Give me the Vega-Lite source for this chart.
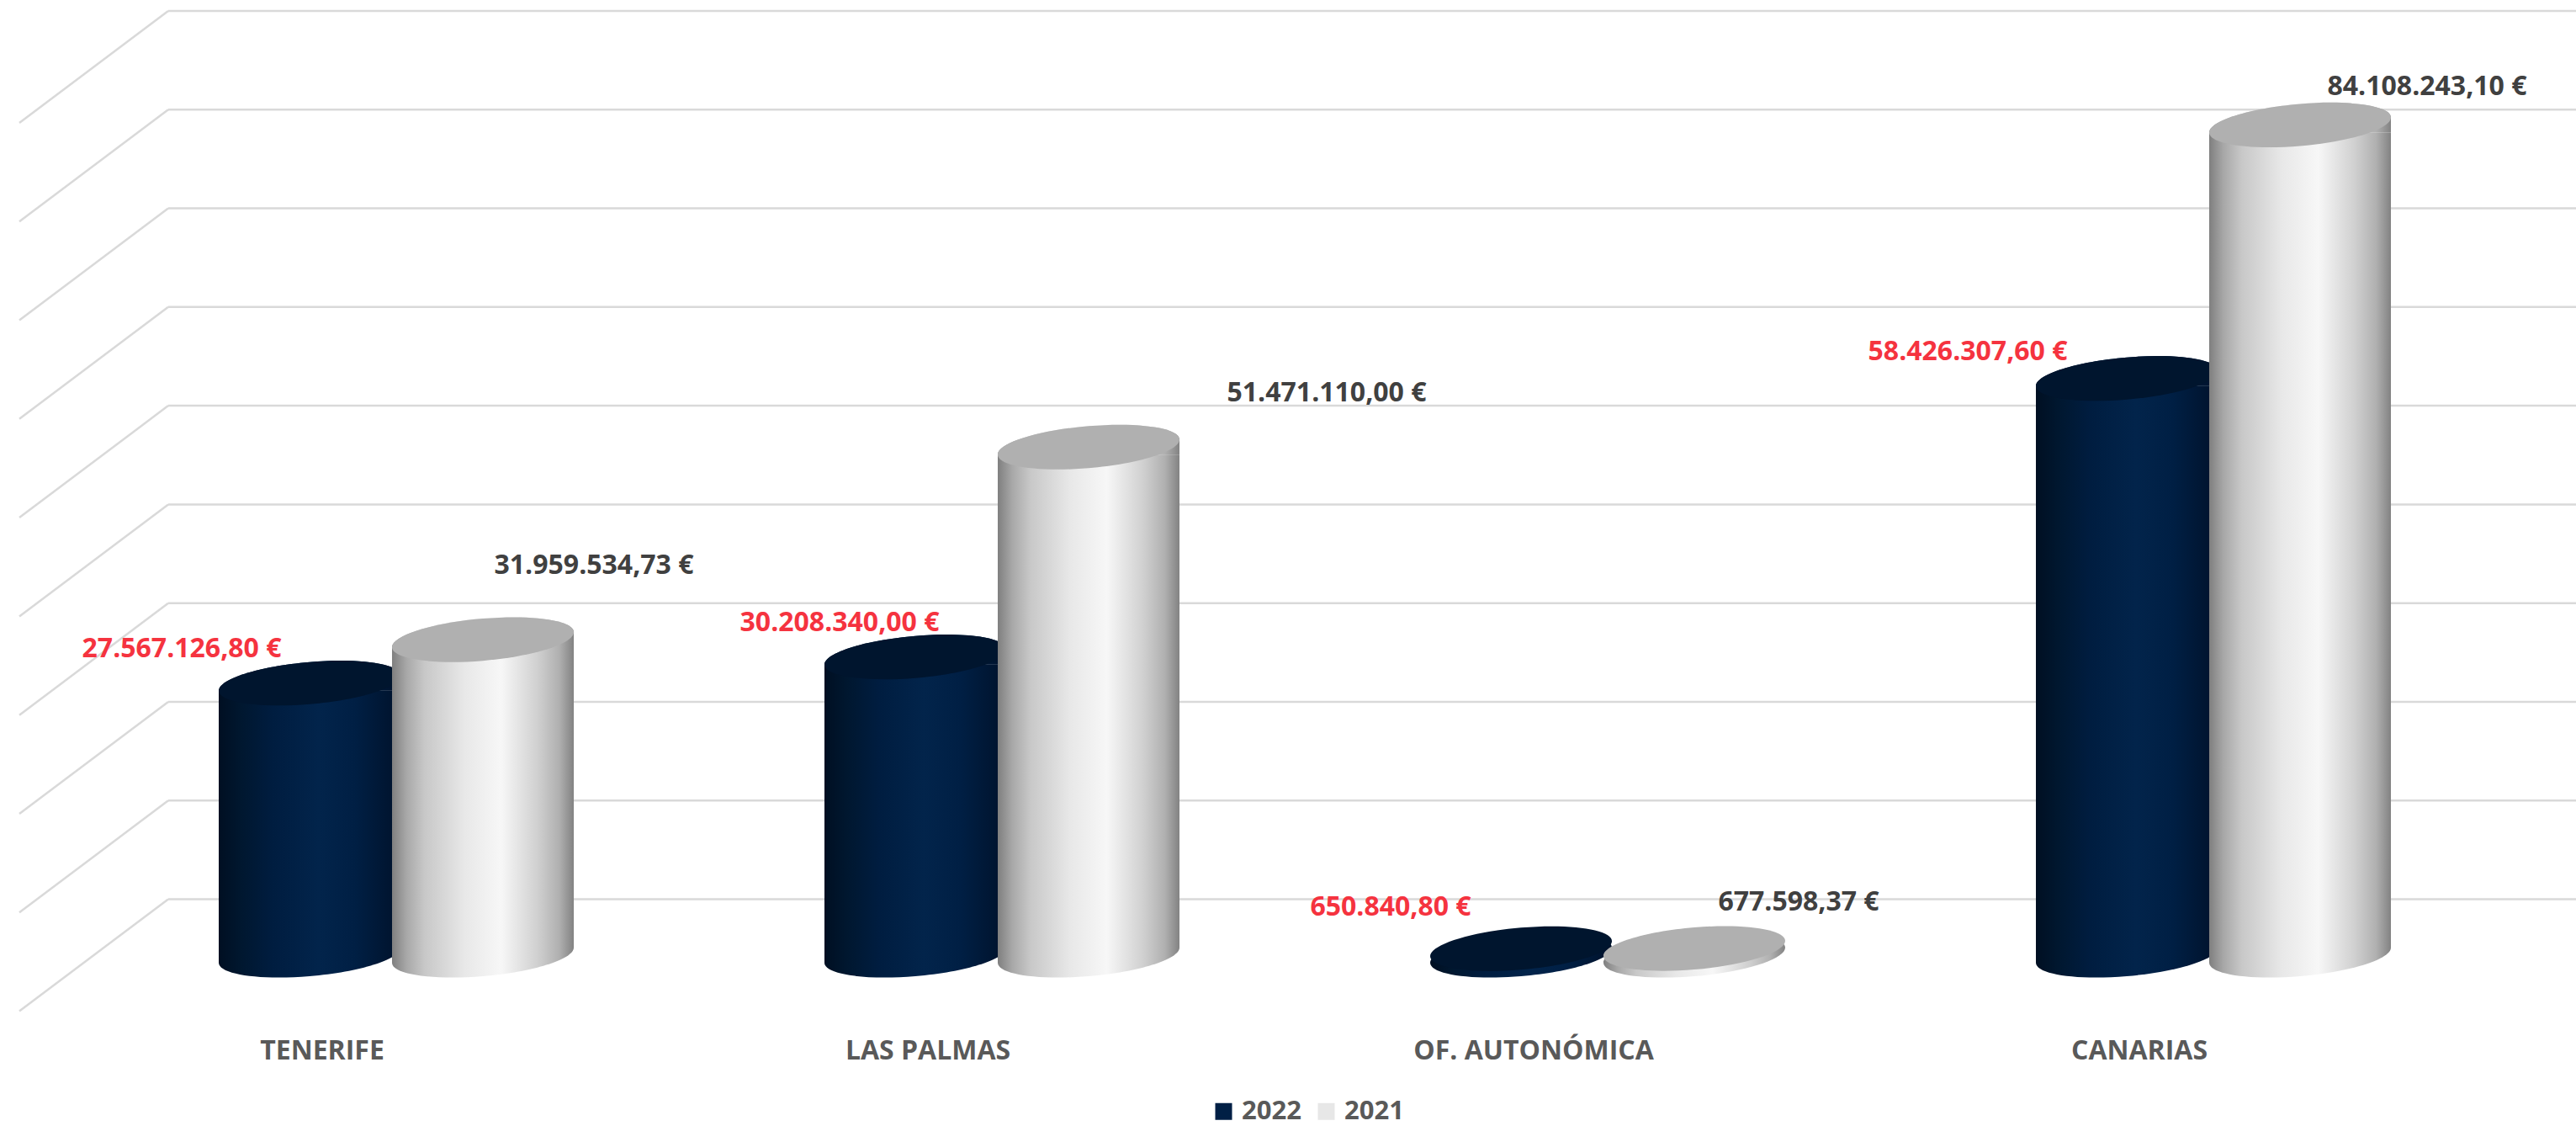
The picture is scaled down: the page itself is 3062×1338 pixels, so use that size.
{
"$schema":"https://vega.github.io/schema/vega-lite/v6.json",
"width":2880,"height":1135,
"autosize":{"type":"none"},
"padding":{"left":111,"right":71,"top":0,"bottom":203},
"background":"white",
"config":{"view":{"stroke":null}},
"datasets":{
"cyl":[
{"region":"TENERIFE","year":"2022","value":27567126.80,"label":"27.567.126,80 €"},
{"region":"LAS PALMAS","year":"2022","value":30208340.00,"label":"30.208.340,00 €"},
{"region":"OF. AUTONÓMICA","year":"2022","value":650840.80,"label":"650.840,80 €"},
{"region":"CANARIAS","year":"2022","value":58426307.60,"label":"58.426.307,60 €"},
{"region":"TENERIFE","year":"2021","value":31959534.73,"label":"31.959.534,73 €"},
{"region":"LAS PALMAS","year":"2021","value":51471110.00,"label":"51.471.110,00 €"},
{"region":"OF. AUTONÓMICA","year":"2021","value":677598.37,"label":"677.598,37 €"},
{"region":"CANARIAS","year":"2021","value":84108243.10,"label":"84.108.243,10 €"}
],
"levels":[{"level":0},{"level":10000000},{"level":20000000},{"level":30000000},{"level":40000000},{"level":50000000},{"level":60000000},{"level":70000000},{"level":80000000},{"level":90000000}]
},
"resolve":{"scale":{"x":"independent"}},
"layer":[
{"data":{"name":"levels"},
 "mark":{"type":"rule","color":"#d9d9d9","strokeWidth":2.5,"yOffset":-66.4},
 "encoding":{
  "x":{"datum":0.1236,"type":"quantitative","scale":{"domain":[0,4],"nice":false,"zero":false},"axis":null},
  "x2":{"datum":4.2},
  "y":{"field":"level","type":"quantitative","scale":{"domain":[0,96763000],"nice":false,"zero":false},"axis":null}
 }},
{"data":{"name":"levels"},
 "mark":{"type":"rule","color":"#d9d9d9","strokeWidth":2.5,"yOffset":-66.4,"y2Offset":66.6},
 "encoding":{
  "x":{"datum":0.1236,"type":"quantitative","scale":{"domain":[0,4],"nice":false,"zero":false},"axis":null},
  "x2":{"datum":-0.1222},
  "y":{"field":"level","type":"quantitative","scale":{"domain":[0,96763000],"nice":false,"zero":false},"axis":null},
  "y2":{"field":"level"}
 }},
{"data":{"name":"cyl"},
 "encoding":{
  "x":{"field":"region","type":"nominal","sort":null,
    "scale":{"type":"band","domain":["TENERIFE","LAS PALMAS","OF. AUTONÓMICA","CANARIAS"],"paddingInner":0,"paddingOuter":0},
    "axis":{"title":null,"domain":false,"ticks":false,"grid":false,"labelAngle":0,"labelOffset":-88,"labelPadding":98,"labelLimit":600,"labelFont":"Open Sans","labelFontSize":32,"labelFontWeight":700,"labelColor":"#595959"}},
  "xOffset":{"field":"year","type":"nominal","sort":null,"scale":{"type":"band","domain":["2022","2021"],"paddingInner":0,"paddingOuter":0.7476}},
  "y":{"field":"value","type":"quantitative","scale":{"domain":[0,96763000],"nice":false,"zero":false},"axis":null}
 },
 "layer":[
 {"transform":[{"filter":"datum.value > 2000000"}],
  "mark":{"type":"bar","width":216,"yOffset":9,"y2Offset":-9},
  "encoding":{"y2":{"datum":0},
   "color":{"field":"year","type":"nominal","scale":{"domain":["2022","2021"],"range":["#001f45","#e7e7e7"]},
    "legend":{"title":null,"orient":"none","legendX":1328,"legendY":1305,"direction":"horizontal","symbolType":"square","symbolSize":400,"symbolStrokeWidth":0,"labelFont":"Open Sans","labelFontSize":31,"labelFontWeight":700,"labelColor":"#595959","columnPadding":14,"labelOffset":6,"symbolOpacity":1}}}},

 {"transform":[{"filter":"datum.year == '2022' && datum.value > 2000000"}],
  "mark":{"type":"point","filled":true,"opacity":1,"strokeWidth":0,"size":46656,"shape":"M-1,-.0833 L1,-.0833 C1,.0446 .5523,.1855 0,.2315 C-.5523,.2775 -1,.2112 -1,.0833 Z",
   "fill":{"x1":0,"y1":0,"x2":1,"y2":0,"gradient":"linear","stops":[{"offset":0,"color":"#000f22"},{"offset":0.12,"color":"#00172f"},{"offset":0.3,"color":"#001d40"},{"offset":0.55,"color":"#02244b"},{"offset":0.75,"color":"#001f44"},{"offset":1,"color":"#00122b"}]}},
  "encoding":{"y":{"datum":0,"type":"quantitative"}}},
 {"transform":[{"filter":"datum.year == '2022' && datum.value > 2000000"}],
  "mark":{"type":"bar","width":216,"yOffset":9,"y2Offset":-9,
   "fill":{"x1":0,"y1":0,"x2":1,"y2":0,"gradient":"linear","stops":[{"offset":0,"color":"#000f22"},{"offset":0.12,"color":"#00172f"},{"offset":0.3,"color":"#001d40"},{"offset":0.55,"color":"#02244b"},{"offset":0.75,"color":"#001f44"},{"offset":1,"color":"#00122b"}]}},
  "encoding":{"y2":{"datum":0}}},
 {"transform":[{"filter":"datum.year == '2022' && datum.value > 2000000"}],
  "mark":{"type":"point","filled":true,"opacity":1,"strokeWidth":0,"size":46656,"shape":"M-1,.0833 C-1,-.0446 -.5523,-.1855 0,-.2315 C.5523,-.2775 1,-.2112 1,-.0833 L1,.0833 Z",
   "fill":{"x1":0,"y1":0,"x2":1,"y2":0,"gradient":"linear","stops":[{"offset":0,"color":"#000f22"},{"offset":0.12,"color":"#00172f"},{"offset":0.3,"color":"#001d40"},{"offset":0.55,"color":"#02244b"},{"offset":0.75,"color":"#001f44"},{"offset":1,"color":"#00122b"}]}}},
 {"transform":[{"filter":"datum.year == '2022' && datum.value <= 2000000"}],
  "mark":{"type":"point","filled":true,"opacity":1,"strokeWidth":0,"size":46656,"shape":"M1,-.0833 C1,.0446 .5523,.1855 0,.2315 C-.5523,.2775 -1,.2112 -1,.0833 C-1,-.0446 -.5523,-.1855 0,-.2315 C.5523,-.2775 1,-.2112 1,-.0833 Z",
   "fill":{"x1":0,"y1":0,"x2":1,"y2":0,"gradient":"linear","stops":[{"offset":0,"color":"#000f22"},{"offset":0.12,"color":"#00172f"},{"offset":0.3,"color":"#001d40"},{"offset":0.55,"color":"#02244b"},{"offset":0.75,"color":"#001f44"},{"offset":1,"color":"#00122b"}]}},
  "encoding":{"y":{"datum":0,"type":"quantitative"}}},
 {"transform":[{"filter":"datum.year == '2022'"}],
  "mark":{"type":"point","filled":true,"opacity":1,"strokeWidth":0,"size":46656,"fill":"#00152e","shape":"M1,-.0833 C1,.0446 .5523,.1855 0,.2315 C-.5523,.2775 -1,.2112 -1,.0833 C-1,-.0446 -.5523,-.1855 0,-.2315 C.5523,-.2775 1,-.2112 1,-.0833 Z"}},

 {"transform":[{"filter":"datum.year == '2021' && datum.value > 2000000"}],
  "mark":{"type":"point","filled":true,"opacity":1,"strokeWidth":0,"size":46656,"shape":"M-1,-.0833 L1,-.0833 C1,.0446 .5523,.1855 0,.2315 C-.5523,.2775 -1,.2112 -1,.0833 Z",
   "fill":{"x1":0,"y1":0,"x2":1,"y2":0,"gradient":"linear","stops":[{"offset":0,"color":"#7f7f7f"},{"offset":0.08,"color":"#a8a8a8"},{"offset":0.18,"color":"#c8c8c8"},{"offset":0.4,"color":"#e8e8e8"},{"offset":0.6,"color":"#f7f7f7"},{"offset":0.8,"color":"#d0d0d0"},{"offset":0.92,"color":"#b0b0b0"},{"offset":1,"color":"#828282"}]}},
  "encoding":{"y":{"datum":0,"type":"quantitative"}}},
 {"transform":[{"filter":"datum.year == '2021' && datum.value > 2000000"}],
  "mark":{"type":"bar","width":216,"yOffset":9,"y2Offset":-9,
   "fill":{"x1":0,"y1":0,"x2":1,"y2":0,"gradient":"linear","stops":[{"offset":0,"color":"#7f7f7f"},{"offset":0.08,"color":"#a8a8a8"},{"offset":0.18,"color":"#c8c8c8"},{"offset":0.4,"color":"#e8e8e8"},{"offset":0.6,"color":"#f7f7f7"},{"offset":0.8,"color":"#d0d0d0"},{"offset":0.92,"color":"#b0b0b0"},{"offset":1,"color":"#828282"}]}},
  "encoding":{"y2":{"datum":0}}},
 {"transform":[{"filter":"datum.year == '2021' && datum.value > 2000000"}],
  "mark":{"type":"point","filled":true,"opacity":1,"strokeWidth":0,"size":46656,"shape":"M-1,.0833 C-1,-.0446 -.5523,-.1855 0,-.2315 C.5523,-.2775 1,-.2112 1,-.0833 L1,.0833 Z",
   "fill":{"x1":0,"y1":0,"x2":1,"y2":0,"gradient":"linear","stops":[{"offset":0,"color":"#7f7f7f"},{"offset":0.08,"color":"#a8a8a8"},{"offset":0.18,"color":"#c8c8c8"},{"offset":0.4,"color":"#e8e8e8"},{"offset":0.6,"color":"#f7f7f7"},{"offset":0.8,"color":"#d0d0d0"},{"offset":0.92,"color":"#b0b0b0"},{"offset":1,"color":"#828282"}]}}},
 {"transform":[{"filter":"datum.year == '2021' && datum.value <= 2000000"}],
  "mark":{"type":"point","filled":true,"opacity":1,"strokeWidth":0,"size":46656,"shape":"M1,-.0833 C1,.0446 .5523,.1855 0,.2315 C-.5523,.2775 -1,.2112 -1,.0833 C-1,-.0446 -.5523,-.1855 0,-.2315 C.5523,-.2775 1,-.2112 1,-.0833 Z",
   "fill":{"x1":0,"y1":0,"x2":1,"y2":0,"gradient":"linear","stops":[{"offset":0,"color":"#7f7f7f"},{"offset":0.08,"color":"#a8a8a8"},{"offset":0.18,"color":"#c8c8c8"},{"offset":0.4,"color":"#e8e8e8"},{"offset":0.6,"color":"#f7f7f7"},{"offset":0.8,"color":"#d0d0d0"},{"offset":0.92,"color":"#b0b0b0"},{"offset":1,"color":"#828282"}]}},
  "encoding":{"y":{"datum":0,"type":"quantitative"}}},
 {"transform":[{"filter":"datum.year == '2021'"}],
  "mark":{"type":"point","filled":true,"opacity":1,"strokeWidth":0,"size":46656,"fill":"#b0b0b0","shape":"M1,-.0833 C1,.0446 .5523,.1855 0,.2315 C-.5523,.2775 -1,.2112 -1,.0833 C-1,-.0446 -.5523,-.1855 0,-.2315 C.5523,-.2775 1,-.2112 1,-.0833 Z"}},

 {"transform":[{"filter":"datum.year == '2022' && datum.region == 'TENERIFE'"}],"mark":{"type":"text","font":"Open Sans","fontSize":32,"fontWeight":700,"color":"#f5333f","dx":-152,"dy":-41},"encoding":{"text":{"field":"label"}}},
 {"transform":[{"filter":"datum.year == '2022' && datum.region == 'LAS PALMAS'"}],"mark":{"type":"text","font":"Open Sans","fontSize":32,"fontWeight":700,"color":"#f5333f","dx":-90,"dy":-41},"encoding":{"text":{"field":"label"}}},
 {"transform":[{"filter":"datum.year == '2022' && datum.region == 'OF. AUTONÓMICA'"}],"mark":{"type":"text","font":"Open Sans","fontSize":32,"fontWeight":700,"color":"#f5333f","dx":-155,"dy":-49},"encoding":{"text":{"field":"label"}}},
 {"transform":[{"filter":"datum.year == '2022' && datum.region == 'CANARIAS'"}],"mark":{"type":"text","font":"Open Sans","fontSize":32,"fontWeight":700,"color":"#f5333f","dx":-189,"dy":-32},"encoding":{"text":{"field":"label"}}},
 {"transform":[{"filter":"datum.year == '2021' && datum.region == 'TENERIFE'"}],"mark":{"type":"text","font":"Open Sans","fontSize":32,"fontWeight":700,"color":"#404040","dx":132,"dy":-88},"encoding":{"text":{"field":"label"}}},
 {"transform":[{"filter":"datum.year == '2021' && datum.region == 'LAS PALMAS'"}],"mark":{"type":"text","font":"Open Sans","fontSize":32,"fontWeight":700,"color":"#404040","dx":283,"dy":-64},"encoding":{"text":{"field":"label"}}},
 {"transform":[{"filter":"datum.year == '2021' && datum.region == 'OF. AUTONÓMICA'"}],"mark":{"type":"text","font":"Open Sans","fontSize":32,"fontWeight":700,"color":"#404040","dx":124,"dy":-55},"encoding":{"text":{"field":"label"}}},
 {"transform":[{"filter":"datum.year == '2021' && datum.region == 'CANARIAS'"}],"mark":{"type":"text","font":"Open Sans","fontSize":32,"fontWeight":700,"color":"#404040","dx":151,"dy":-45},"encoding":{"text":{"field":"label"}}}
 ]}
]
}
